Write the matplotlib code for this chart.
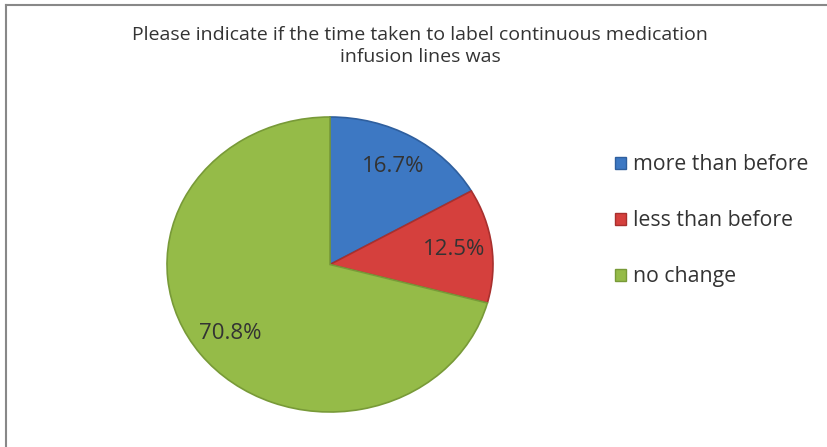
import matplotlib.pyplot as plt
from matplotlib.patches import Patch

labels = ["more than before", "less than before", "no change"]
values = [16.7, 12.5, 70.8]
colors = ["#3d78c3", "#d5403d", "#95bb48"]
edges = ["#2f5f9e", "#a8302e", "#789a38"]
title = "Please indicate if the time taken to label continuous medication\ninfusion lines was"

plt.rcParams['font.family'] = ['Open Sans', 'DejaVu Sans']

fig = plt.figure(figsize=(8.27, 4.47), dpi=100)

# frame line top and left like the reference
fig.add_artist(plt.Line2D([5.5 / 827, 1], [1 - 5 / 447, 1 - 5 / 447], color="#888888", lw=1.5))
fig.add_artist(plt.Line2D([5.5 / 827, 5.5 / 827], [0, 1 - 5 / 447], color="#888888", lw=1.5))

fig.text(420 / 827, 1 - 46 / 447, title, ha="center", va="center",
         fontsize=14, color="#333333", linespacing=1.35)

ax = fig.add_axes([167 / 827, (447 - 412) / 447, 326 / 827, 295 / 447])
wedges, texts, autotexts = ax.pie(values, colors=colors, startangle=90, counterclock=False,
                                  autopct="%.1f%%", pctdistance=0.77, radius=1,
                                  wedgeprops=dict(linewidth=1.2),
                                  textprops=dict(fontsize=16, color="#333333"))
for w, e in zip(wedges, edges):
    w.set_edgecolor(e)
ax.set_xlim(-1, 1)
ax.set_ylim(-1, 1)
ax.set_aspect("auto")

handles = [Patch(facecolor=c, edgecolor=e) for c, e in zip(colors, edges)]
fig.legend(handles, labels, loc="upper left", bbox_to_anchor=(596 / 827, 1 - 135 / 447),
           frameon=False, fontsize=15.3, handlelength=0.5, handleheight=0.5,
           handletextpad=0.35, labelspacing=1.65, labelcolor="#333333")

fig.savefig("out.png", dpi=100, facecolor="white")
